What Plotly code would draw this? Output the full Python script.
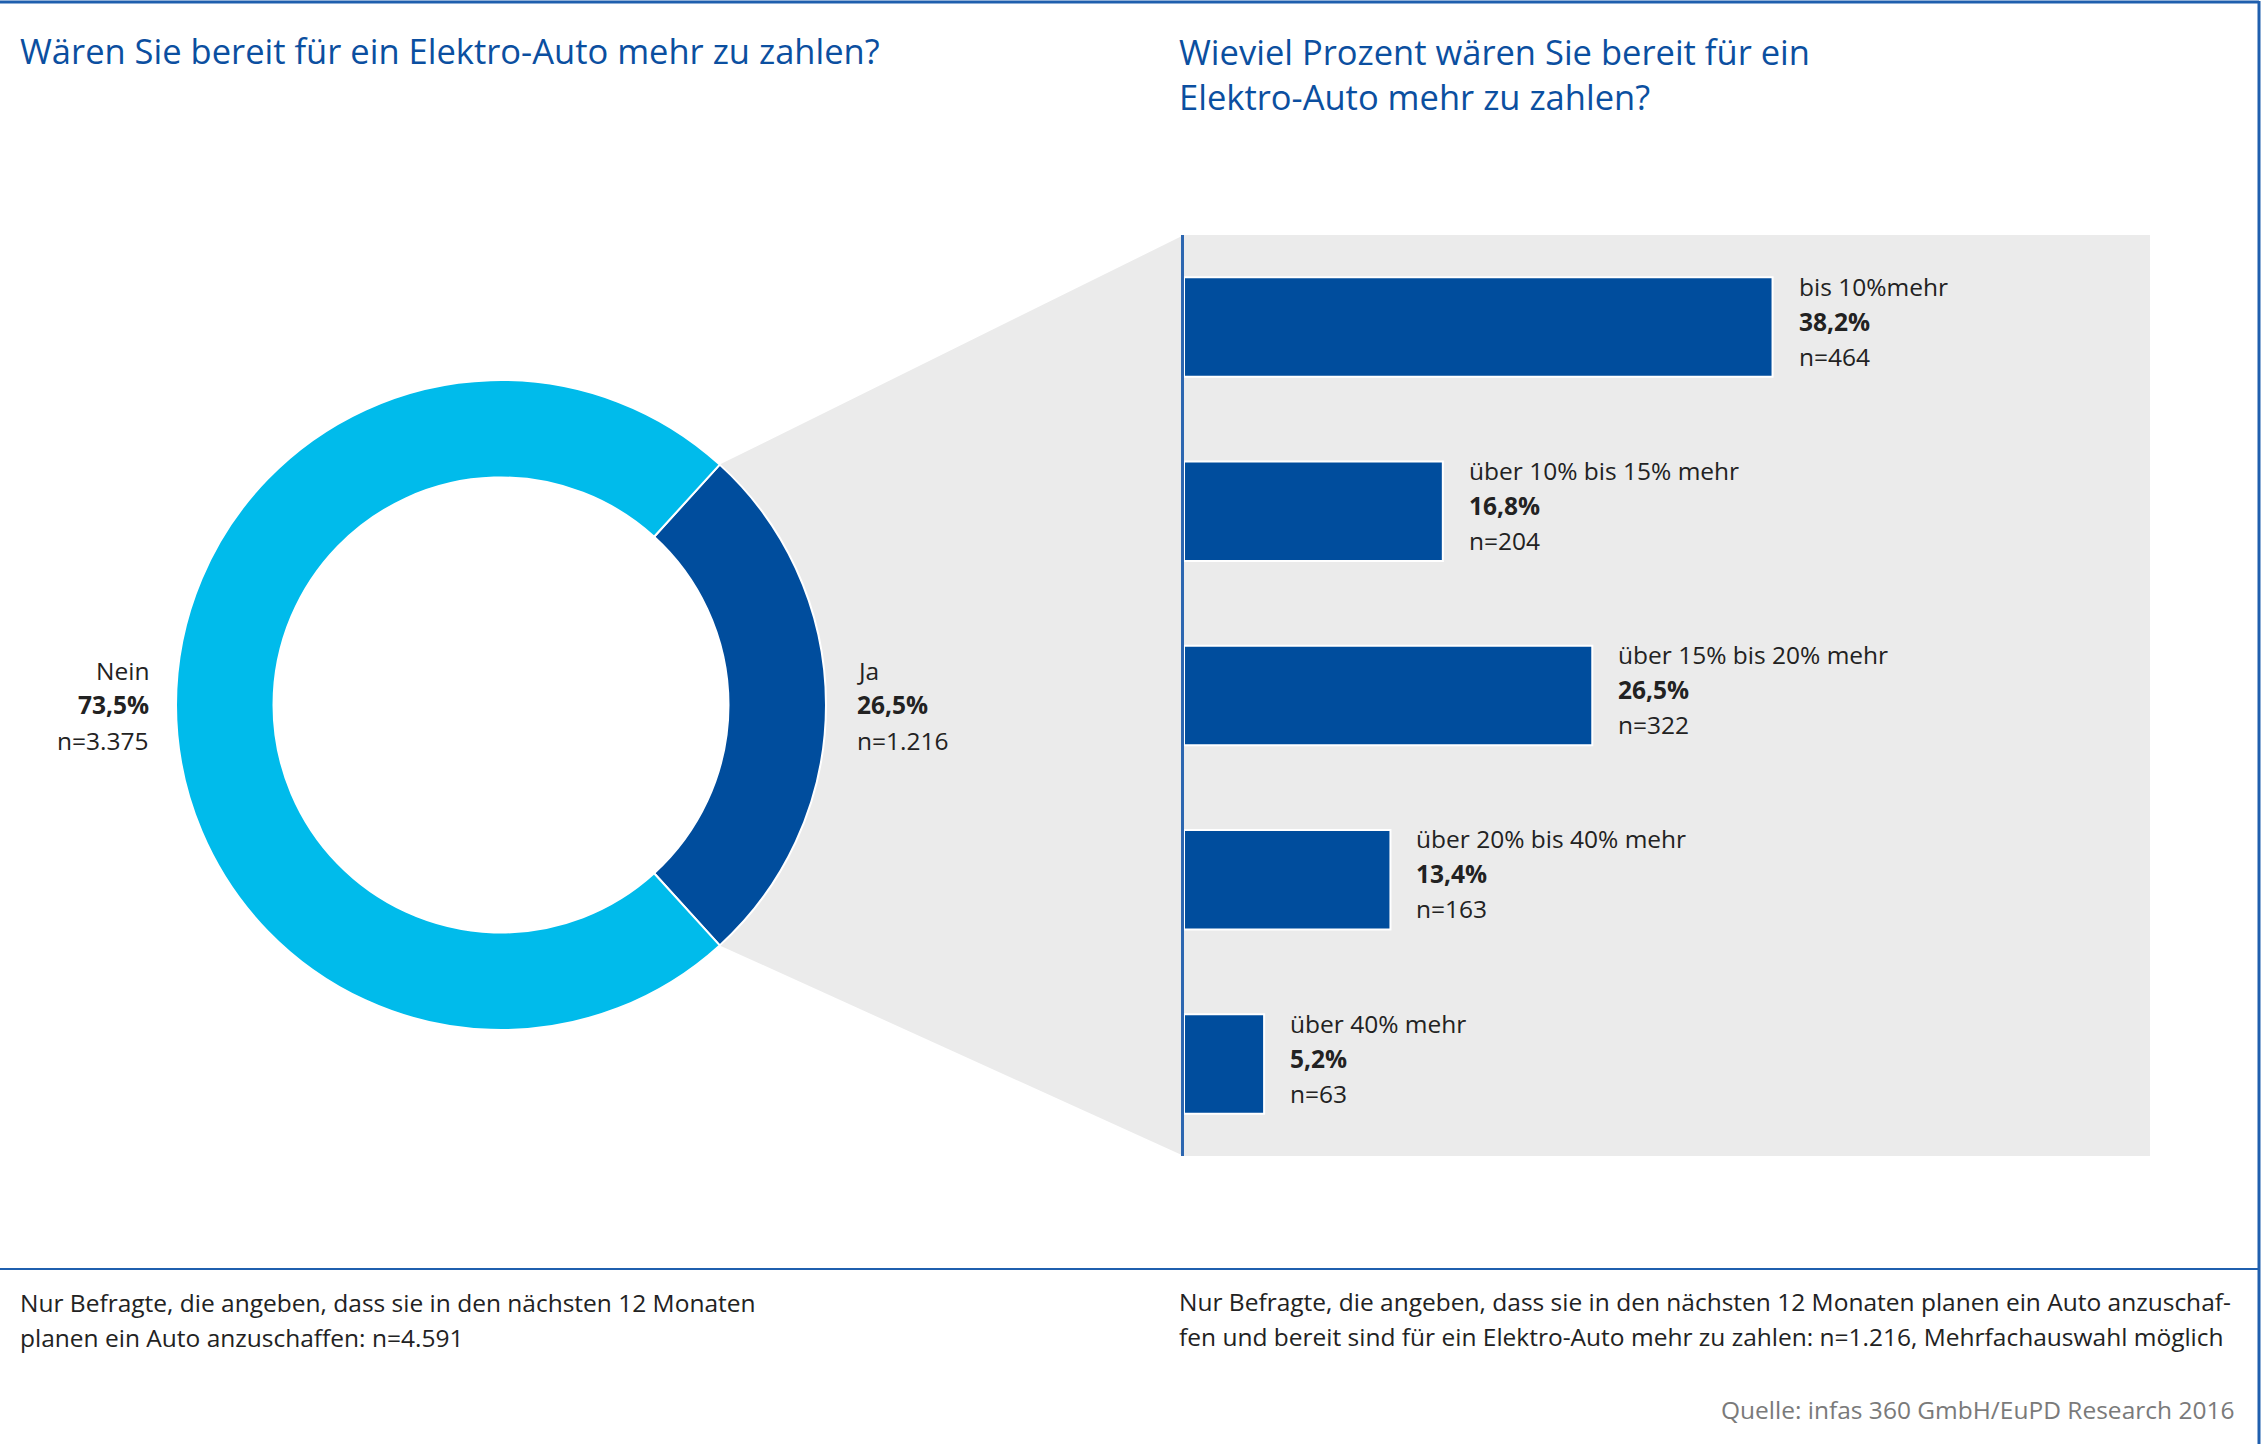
import math
import plotly.graph_objects as go

W, H = 2266, 1444

# Daten
antworten = ["Ja", "Nein"]
anteile = [26.5, 73.5]
anzahl = ["1.216", "3.375"]

stufen = ["bis 10%mehr", "über 10% bis 15% mehr", "über 15% bis 20% mehr",
          "über 20% bis 40% mehr", "über 40% mehr"]
prozent = [38.2, 16.8, 26.5, 13.4, 5.2]
n_stufen = [464, 204, 322, 163, 63]

BLAU = "#004D9D"
CYAN = "#00BBEB"
GRAU = "#EBEBEB"
RAHMEN = "#1F5FAE"
TITEL = "#0B4FA0"
TEXT = "#222222"
FONT = "Open Sans"
GR_TITEL = 34.5
GR_TEXT = 24.5


def px(x):
    return x / W


def py(y):
    return 1 - y / H


def de(v):
    return f"{v:.1f}".replace(".", ",") + "%"


# Donut (Pixel-Geometrie)
cx, cy, R = 501, 705, 325
halb = anteile[0] * 3.6 / 2

fig = go.Figure()

fig.add_trace(go.Pie(
    labels=antworten,
    values=anteile,
    hole=0.70,
    sort=False,
    direction="clockwise",
    rotation=90 - halb,
    marker=dict(colors=[BLAU, CYAN], line=dict(color="white", width=2)),
    textinfo="none",
    hoverinfo="label+percent",
    showlegend=False,
    domain=dict(x=[px(cx - R), px(cx + R)], y=[py(cy + R), py(cy - R)]),
))

fig.add_trace(go.Bar(
    y=stufen,
    x=prozent,
    orientation="h",
    width=0.54,
    marker=dict(color=BLAU, line=dict(color="white", width=2)),
    hovertemplate="%{y}: %{x}%<extra></extra>",
    showlegend=False,
))

# Balkenbereich
x0_bar, x1_bar = 1184, 2150
y0_bar, y1_bar = 235, 1156

fig.update_xaxes(domain=[px(x0_bar), px(x1_bar)], range=[0, 62.7],
                 visible=False, fixedrange=True)
fig.update_yaxes(domain=[py(y1_bar), py(y0_bar)], range=[4.5, -0.5],
                 type="category", categoryorder="array", categoryarray=stufen,
                 showticklabels=False, showgrid=False, zeroline=False,
                 showline=True, linecolor="#2C66B0", linewidth=3,
                 fixedrange=True)

annots = []

# Beschriftung Balken
for i, (s, p, n) in enumerate(zip(stufen, prozent, n_stufen)):
    for k, t in enumerate([s, f"<b>{de(p)}</b>", f"n={n}"]):
        annots.append(dict(
            x=p, y=i - 0.27, xref="x", yref="y",
            xanchor="left", yanchor="middle", xshift=24, yshift=-(9 + 35 * k),
            text=t, showarrow=False, font=dict(size=GR_TEXT, color=TEXT),
        ))

# Beschriftung Donut
for lab, v, n, seite in [(antworten[1], anteile[1], anzahl[1], -1),
                         (antworten[0], anteile[0], anzahl[0], 1)]:
    xpos = cx + seite * (R + (25 if seite < 0 else 29))
    for k, t in enumerate([lab, f"<b>{de(v)}</b>", f"n={n}"]):
        annots.append(dict(
            x=px(xpos), y=py(cy - 35 + 35 * k), xref="paper", yref="paper",
            xanchor="right" if seite < 0 else "left", yanchor="middle",
            text=t, showarrow=False, font=dict(size=GR_TEXT, color=TEXT),
        ))

# Titel
annots.append(dict(x=px(18), y=py(50), xref="paper", yref="paper",
                   xanchor="left", yanchor="middle", showarrow=False,
                   text="Wären Sie bereit für ein Elektro-Auto mehr zu zahlen?",
                   font=dict(size=GR_TITEL, color=TITEL)))
for k, t in enumerate(["Wieviel Prozent wären Sie bereit für ein",
                       "Elektro-Auto mehr zu zahlen?"]):
    annots.append(dict(x=px(1177), y=py(51 + 45 * k), xref="paper", yref="paper",
                       xanchor="left", yanchor="middle", showarrow=False,
                       text=t, font=dict(size=GR_TITEL, color=TITEL)))

# Fußnoten
fuss_links = ["Nur Befragte, die angeben, dass sie in den nächsten 12 Monaten",
              "planen ein Auto anzuschaffen: n=4.591"]
fuss_rechts = ["Nur Befragte, die angeben, dass sie in den nächsten 12 Monaten planen ein Auto anzuschaf-",
               "fen und bereit sind für ein Elektro-Auto mehr zu zahlen: n=1.216, Mehrfachauswahl möglich"]
for k, t in enumerate(fuss_links):
    annots.append(dict(x=px(18), y=py(1302 + 35 * k), xref="paper", yref="paper",
                       xanchor="left", yanchor="middle", showarrow=False,
                       text=t, font=dict(size=GR_TEXT, color=TEXT)))
for k, t in enumerate(fuss_rechts):
    annots.append(dict(x=px(1177), y=py(1301 + 35 * k), xref="paper", yref="paper",
                       xanchor="left", yanchor="middle", showarrow=False,
                       text=t, font=dict(size=GR_TEXT, color=TEXT)))
annots.append(dict(x=px(2236), y=py(1409), xref="paper", yref="paper",
                   xanchor="right", yanchor="middle", showarrow=False,
                   text="Quelle: infas 360 GmbH/EuPD Research 2016",
                   font=dict(size=GR_TEXT, color="#7A7A7A")))

# Verbindungsfläche Donut -> Balken
h = math.radians(halb)
p1 = (cx + R * math.cos(h), cy - R * math.sin(h))
p2 = (cx + R * math.cos(h), cy + R * math.sin(h))
pm = (cx + 0.85 * R, cy)
pfad = (f"M {px(p1[0])},{py(p1[1])} L {px(x0_bar)},{py(y0_bar)} "
        f"L {px(x0_bar)},{py(y1_bar)} L {px(p2[0])},{py(p2[1])} "
        f"L {px(pm[0])},{py(pm[1])} Z")

shapes = [
    dict(type="path", path=pfad, xref="paper", yref="paper",
         fillcolor=GRAU, line=dict(width=0), layer="below"),
    # Rahmen
    dict(type="line", xref="paper", yref="paper", x0=0, x1=px(2259),
         y0=py(2), y1=py(2), line=dict(color=RAHMEN, width=3)),
    dict(type="line", xref="paper", yref="paper", x0=px(2259), x1=px(2259),
         y0=py(1), y1=0, line=dict(color=RAHMEN, width=3)),
    dict(type="line", xref="paper", yref="paper", x0=0, x1=px(2259),
         y0=py(1269), y1=py(1269), line=dict(color=RAHMEN, width=2)),
]

fig.update_layout(
    width=W, height=H,
    margin=dict(l=0, r=0, t=0, b=0),
    paper_bgcolor="white",
    plot_bgcolor=GRAU,
    font=dict(family=FONT, color=TEXT),
    annotations=annots,
    shapes=shapes,
    bargap=0.46,
)

# Browser-Standardrand entfernen, keine Werkzeugleiste
fig.write_html("out.html", config={"displayModeBar": False},
               post_script="document.body.style.margin='0';")
